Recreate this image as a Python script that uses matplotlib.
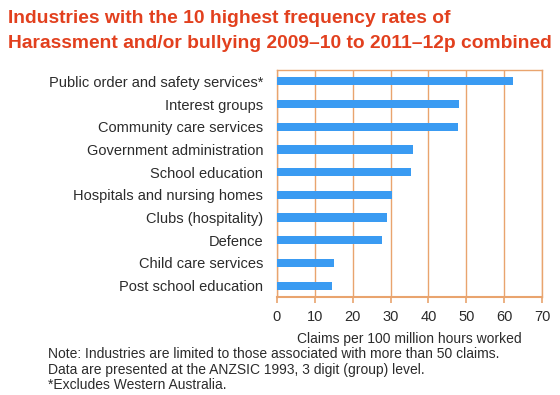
import matplotlib.pyplot as plt

# Dados do gráfico (de cima para baixo)
industrias = [
    "Public order and safety services*",
    "Interest groups",
    "Community care services",
    "Government administration",
    "School education",
    "Hospitals and nursing homes",
    "Clubs (hospitality)",
    "Defence",
    "Child care services",
    "Post school education",
]
taxas = [62.3, 48.1, 47.9, 36.0, 35.5, 30.5, 29.0, 27.8, 15.1, 14.5]
ticks_x = [0, 10, 20, 30, 40, 50, 60, 70]

laranja = "#E9A46E"
vermelho = "#E2401E"
azul = "#3A9BF2"
cinza = "#2b2b2b"

plt.rcParams['font.family'] = ['Liberation Sans', 'DejaVu Sans']

fig = plt.figure(figsize=(5.6, 3.95), dpi=100)
ax = fig.add_axes([0.4946, 0.2481, 0.4732, 0.5747])

posicoes = list(range(len(industrias)))
ax.barh(posicoes, taxas, height=0.36, color=azul, zorder=3)
ax.set_ylim(len(industrias) - 0.5, -0.5)
ax.set_xlim(0, 70)
ax.set_xticks(ticks_x)
ax.set_yticks(posicoes)
ax.set_yticklabels(industrias, fontsize=10.5, color=cinza)
ax.tick_params(axis='x', colors=laranja, labelcolor=cinza, labelsize=10.5, length=4, width=1.2, pad=5)
ax.tick_params(axis='y', length=0, pad=10)
ax.grid(axis='x', color=laranja, linewidth=1, zorder=0)
for lado in ax.spines.values():
    lado.set_color(laranja)
    lado.set_linewidth(1)
ax.spines['bottom'].set_linewidth(1.5)

ax.set_xlabel("Claims per 100 million hours worked", fontsize=10, color=cinza, labelpad=6)

# Título
fig.text(0.014, 0.975, "Industries with the 10 highest frequency rates of\nHarassment and/or bullying 2009\u201310 to 2011\u201312p combined",
         fontsize=13.9, fontweight='bold', color=vermelho, va='top', ha='left', linespacing=1.6)

# Nota de rodapé
fig.text(0.086, 0.064, "Note: Industries are limited to those associated with more than 50 claims.\n"
         "Data are presented at the ANZSIC 1993, 3 digit (group) level.\n"
         "*Excludes Western Australia.",
         fontsize=10, color=cinza, va='center', ha='left', linespacing=1.15)

fig.savefig("out.png", dpi=100)
